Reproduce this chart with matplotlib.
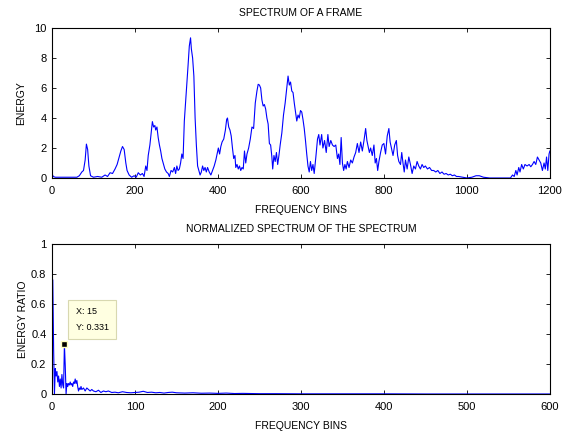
#!/usr/bin/env python3
"""Frame spectrum and normalized spectrum-of-spectrum, MATLAB style."""

import matplotlib
matplotlib.use('Agg')
import matplotlib.pyplot as plt

# spectrum of one frame (bin, energy)
spec_bins = [0, 3, 8, 30, 60, 66, 72, 76, 80, 83, 86, 89, 93, 100, 110, 120, 128, 134, 140, 146,
             152, 157, 162, 166, 170, 174, 178, 181, 186, 192, 198, 203, 208, 213, 218, 222, 226, 229,
             232, 236, 239, 242, 245, 248, 250, 253, 256, 259, 262, 265, 268, 272, 276, 280, 283, 287,
             291, 295, 298, 301, 304, 307, 310, 313, 316, 319, 322, 325, 328, 331, 334, 336, 339, 342,
             345, 348, 351, 354, 357, 360, 363, 366, 369, 372, 375, 379, 383, 387, 391, 395, 398, 401,
             404, 407, 410, 414, 418, 421, 423, 426, 429, 432, 435, 438, 441, 443, 446, 449, 452, 455,
             458, 461, 464, 467, 470, 474, 478, 482, 486, 490, 494, 497, 500, 503, 506, 509, 512, 515,
             518, 521, 524, 527, 530, 532, 535, 538, 541, 544, 547, 550, 554, 558, 562, 566, 569, 572,
             575, 578, 581, 584, 587, 590, 593, 596, 599, 602, 605, 608, 611, 614, 617, 620, 623, 626,
             629, 632, 636, 640, 643, 646, 650, 653, 657, 661, 665, 668, 672, 676, 680, 684, 688, 691,
             694, 697, 700, 703, 706, 709, 712, 716, 720, 724, 728, 732, 736, 740, 744, 748, 752, 756,
             759, 762, 765, 768, 772, 776, 779, 782, 785, 788, 792, 796, 800, 804, 808, 812, 815, 818,
             822, 826, 830, 833, 836, 840, 843, 846, 849, 852, 856, 860, 864, 868, 872, 876, 880, 884,
             888, 892, 896, 900, 905, 910, 915, 920, 925, 930, 935, 940, 945, 950, 955, 960, 965, 970,
             975, 980, 990, 1000, 1012, 1022, 1030, 1040, 1055, 1105, 1110, 1114, 1118, 1121, 1125,
             1128, 1132, 1136, 1140, 1145, 1150, 1154, 1158, 1162, 1166, 1170, 1174, 1178, 1182, 1186,
             1189, 1192, 1195, 1198, 1200]
spec_vals = [0.3, 0.1, 0.05, 0.05, 0.05, 0.15, 0.4, 0.5, 1.2, 2.26, 1.9, 0.8, 0.15, 0.05, 0.1, 0.05,
             0.2, 0.1, 0.35, 0.3, 0.6, 0.9, 1.4, 1.8, 2.1, 1.9, 1.0, 0.5, 0.2, 0.05, 0.15, 0.05, 0.35,
             0.2, 0.3, 0.1, 0.8, 0.5, 1.5, 2.2, 3.0, 3.76, 3.4, 3.5, 3.2, 3.4, 2.7, 2.2, 1.8, 1.3, 1.0,
             0.6, 0.4, 0.3, 0.1, 0.5, 0.4, 0.7, 0.3, 0.8, 0.5, 0.6, 1.0, 1.6, 1.3, 3.8, 5.0, 6.2, 7.5,
             8.8, 9.35, 8.6, 8.0, 6.8, 4.0, 2.2, 0.8, 0.5, 0.2, 0.4, 0.8, 0.5, 0.7, 0.4, 0.7, 0.4, 0.2,
             0.5, 0.8, 1.2, 1.6, 2.0, 1.6, 2.1, 2.4, 2.6, 3.2, 3.9, 4.0, 3.4, 3.2, 2.8, 2.0, 1.3, 1.5,
             0.7, 0.9, 0.6, 0.8, 0.5, 0.7, 0.6, 1.8, 1.0, 1.6, 2.0, 2.6, 3.4, 3.3, 5.0, 5.8, 6.25, 6.2,
             6.0, 5.2, 4.8, 4.9, 4.6, 4.0, 3.6, 2.3, 2.2, 1.4, 0.6, 1.5, 1.1, 1.7, 0.9, 1.5, 2.2, 3.0,
             4.2, 5.0, 6.0, 6.8, 6.2, 6.4, 5.8, 5.7, 5.0, 4.4, 3.8, 4.2, 4.0, 4.5, 4.4, 3.9, 3.3, 2.5,
             1.6, 0.8, 0.4, 1.1, 0.5, 0.9, 0.3, 1.4, 2.6, 2.9, 2.2, 2.9, 2.0, 2.5, 1.7, 2.9, 2.1, 2.5,
             2.2, 2.1, 2.2, 1.3, 1.6, 0.9, 2.7, 1.0, 0.5, 0.9, 0.6, 1.1, 0.7, 1.2, 1.0, 1.4, 1.7, 2.3,
             1.7, 2.4, 1.8, 2.5, 3.3, 2.5, 2.1, 1.7, 2.0, 1.5, 2.2, 1.0, 1.3, 0.5, 1.1, 1.7, 2.2, 2.3,
             1.6, 2.8, 3.3, 2.4, 2.0, 1.5, 2.2, 2.5, 1.5, 1.1, 0.9, 1.7, 1.0, 0.4, 1.2, 0.6, 1.4, 0.9,
             0.3, 0.8, 0.6, 1.1, 0.8, 0.6, 0.9, 0.7, 0.8, 0.6, 0.7, 0.5, 0.5, 0.4, 0.5, 0.3, 0.4, 0.25,
             0.3, 0.2, 0.25, 0.15, 0.2, 0.1, 0.1, 0.05, 0.0, 0.05, 0.15, 0.15, 0.05, 0.0, 0.0, 0.2, 0.1,
             0.5, 0.2, 0.7, 0.4, 0.9, 0.6, 0.9, 0.8, 0.9, 0.75, 0.9, 1.1, 0.9, 1.4, 1.2, 1.0, 0.5, 1.0,
             0.6, 1.4, 0.5, 1.6, 1.8]

# normalized spectrum of the spectrum (bin, ratio)
norm_bins = [1, 2, 3, 4, 5, 6, 7, 8, 9, 10, 11, 12, 13, 14, 15, 16, 17, 18, 19, 20, 21, 22, 23, 24,
             25, 26, 27, 28, 29, 30, 31, 32, 33, 34, 35, 36, 38, 40, 42, 44, 46, 48, 50, 53, 56, 59,
             62, 65, 68, 72, 76, 80, 85, 90, 95, 100, 105, 110, 115, 120, 125, 130, 135, 140, 145,
             150, 160, 170, 180, 190, 200, 210, 220, 230, 240, 250, 270, 300, 350, 400, 450, 500, 600]
norm_vals = [0.76, 0.30, 0.0, 0.17, 0.12, 0.15, 0.08, 0.12, 0.05, 0.10, 0.04, 0.13, 0.06, 0.04, 0.331,
             0.19, 0.0, 0.07, 0.05, 0.07, 0.06, 0.08, 0.06, 0.07, 0.05, 0.08, 0.07, 0.10, 0.07, 0.09,
             0.05, 0.02, 0.04, 0.03, 0.05, 0.03, 0.04, 0.02, 0.04, 0.03, 0.02, 0.03, 0.02, 0.015, 0.025,
             0.01, 0.02, 0.015, 0.02, 0.01, 0.012, 0.008, 0.015, 0.01, 0.008, 0.01, 0.012, 0.018, 0.01,
             0.012, 0.008, 0.01, 0.006, 0.01, 0.012, 0.008, 0.006, 0.008, 0.005, 0.006, 0.004, 0.006,
             0.003, 0.004, 0.003, 0.002, 0.002, 0.001, 0.001, 0.001, 0.0, 0.0, 0.0]

tip_x = 15
tip_y = 0.331

plt.rcParams['font.family'] = ['Liberation Sans', 'DejaVu Sans']
plt.rcParams['font.size'] = 8

fig = plt.figure(figsize=(5.71, 4.32), dpi=100)
ax1 = fig.add_axes([0.091, 0.588, 0.872, 0.347])
ax2 = fig.add_axes([0.091, 0.088, 0.872, 0.347])

ax1.plot(spec_bins, spec_vals, color='#0000ff', lw=0.8)
ax1.set_xlim(0, 1200)
ax1.set_ylim(0, 10)
ax1.set_xticks(range(0, 1201, 200))
ax1.set_yticks(range(0, 11, 2))
ax1.set_title('SPECTRUM OF A FRAME', fontsize=7.5, pad=9)
ax1.set_xlabel('FREQUENCY BINS', fontsize=7.5, labelpad=6)
ax1.set_ylabel('ENERGY', fontsize=7.5, labelpad=6)

ax2.plot(norm_bins, norm_vals, color='#0000ff', lw=0.8)
ax2.set_xlim(0, 600)
ax2.set_ylim(0, 1)
ax2.set_xticks(range(0, 601, 100))
ax2.set_yticks([0, 0.2, 0.4, 0.6, 0.8, 1])
ax2.set_yticklabels(['0', '0.2', '0.4', '0.6', '0.8', '1'])
ax2.set_title('NORMALIZED SPECTRUM OF THE SPECTRUM', fontsize=7.5, pad=9)
ax2.set_xlabel('FREQUENCY BINS', fontsize=7.5, labelpad=6)
ax2.set_ylabel('ENERGY RATIO', fontsize=7.5, labelpad=2)

# data tip
ax2.plot([tip_x], [tip_y], marker='s', ms=5, color='black', mec='#ffffc0', mew=1)
ax2.annotate(f'X: {tip_x}\nY: {tip_y}', xy=(tip_x, tip_y), xytext=(8, 9),
             textcoords='offset points', fontsize=6.5, linespacing=2.0, va='bottom', ha='left',
             bbox=dict(boxstyle='square,pad=0.8', fc='#ffffe1', ec='#d8d8b0', lw=0.8))

for ax in (ax1, ax2):
    ax.tick_params(direction='in', top=True, right=True, length=3, width=0.6, labelsize=8)
    ax.tick_params(axis='x', pad=6)
    ax.tick_params(axis='y', pad=4)
    for sp in ax.spines.values():
        sp.set_linewidth(0.8)

fig.savefig('out.png', dpi=100)
